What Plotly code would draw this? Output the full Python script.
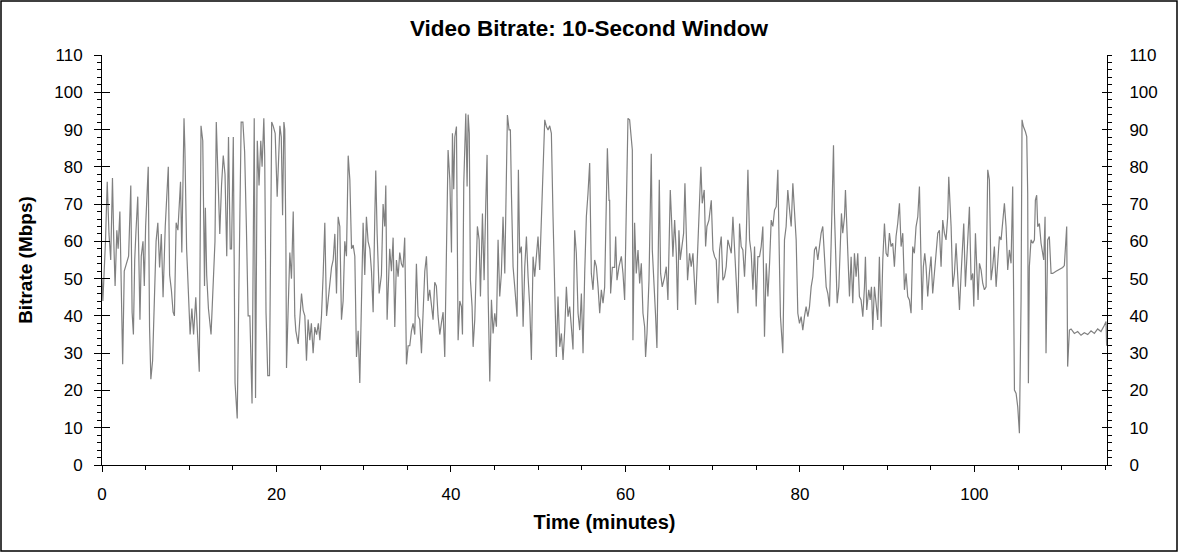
import plotly.graph_objects as go

# 10-second window bitrate (time in minutes, Mbps)
time_min = [
    0.0, 0.1, 0.25, 0.4, 0.6, 0.8, 1.0, 1.2, 1.35, 1.5, 1.7, 1.85, 2.05, 2.2, 2.37, 2.55, 2.8, 3.05,
    3.3, 3.45, 3.6, 3.75, 3.9, 4.1, 4.35, 4.5, 4.7, 4.85, 5.0, 5.3, 5.45, 5.6, 5.8, 6.0, 6.2, 6.4,
    6.6, 6.8, 7.0, 7.25, 7.6, 7.75, 7.95, 8.15, 8.3, 8.5, 8.7, 9.0, 9.15, 9.4, 9.5, 9.7, 9.9, 10.1,
    10.3, 10.5, 10.75, 10.95, 11.15, 11.35, 11.55, 11.75, 11.85, 12.0, 12.2, 12.5, 12.75, 12.95,
    13.1, 13.3, 13.5, 13.7, 13.9, 14.1, 14.3, 14.5, 14.7, 14.85, 15.05, 15.25, 15.5, 15.7, 15.95,
    16.15, 16.35, 16.55, 16.75, 16.95, 17.2, 17.45, 17.6, 17.8, 18.0, 18.2, 18.35, 18.55, 18.65,
    18.8, 19.0, 19.2, 19.35, 19.45,
    19.62, 19.85, 20.08, 20.39, 20.55, 20.7, 20.85, 20.95, 21.08, 21.15, 21.34, 21.53, 21.72,
    21.92, 22.1, 22.22, 22.49, 22.68, 22.87, 23.06, 23.25, 23.44, 23.63, 23.82, 24.0, 24.2, 24.4,
    24.6, 24.8, 24.97, 25.16, 25.35, 25.54, 25.74, 25.93, 26.12, 26.31, 26.5, 26.69, 26.88, 27.07,
    27.26, 27.45, 27.64, 27.83, 28.02, 28.22, 28.41, 28.6, 28.79, 28.98, 29.17, 29.36, 29.55,
    29.74, 29.93, 30.12, 30.31, 30.5, 30.7, 30.89, 31.08, 31.27, 31.38, 31.54, 31.77, 32.03,
    32.22, 32.41, 32.53, 32.68, 32.79, 32.98, 33.18, 33.37, 33.56, 33.75, 33.94, 34.13, 34.32,
    34.51, 34.7, 34.9, 35.09, 35.28, 35.47, 35.66, 35.85, 36.04, 36.23, 36.42, 36.62, 36.81, 37.0,
    37.19, 37.38, 37.57, 37.76, 37.95, 38.14, 38.33, 38.52,
    38.72, 38.9, 39.1, 39.29, 39.48, 39.67, 39.87, 40.06, 40.17, 40.32, 40.44, 40.63, 40.82, 41.01,
    41.2, 41.32, 41.47, 41.7, 41.85, 41.97, 42.1, 42.23, 42.42, 42.54, 42.73, 42.92, 43.03, 43.23,
    43.38, 43.61, 43.8, 43.99, 44.14, 44.26, 44.45, 44.64, 44.83, 45.02, 45.21, 45.4, 45.59, 45.78,
    45.97, 46.17, 46.36, 46.47, 46.66, 46.81, 46.93, 47.12, 47.31, 47.58, 47.73, 47.88, 48.07,
    48.27, 48.46, 48.65, 48.84, 49.03, 49.22, 49.41, 49.6, 49.79, 49.98, 50.17, 50.37, 50.56,
    50.75, 50.94, 51.13, 51.32, 51.51, 51.7, 51.89, 52.08, 52.27, 52.47, 52.66, 52.85, 53.04,
    53.23, 53.42, 53.61, 53.8, 53.99, 54.18, 54.37, 54.57, 54.76, 54.95, 55.14, 55.33, 55.52,
    55.71, 55.9, 56.09, 56.28, 56.47, 56.67, 56.86, 57.05, 57.24, 57.43, 57.62, 57.81, 57.93, 58.12,
    58.19, 58.3, 58.5, 58.76, 58.88, 59.03, 59.26, 59.53, 59.72, 59.91, 60.1, 60.29, 60.48, 60.67,
    60.79, 60.86, 61.05, 61.24, 61.44, 61.63, 61.82, 62.01, 62.2, 62.31, 62.47, 62.7, 62.85, 62.96,
    63.08, 63.23, 63.46, 63.61, 63.76, 63.88, 64.03, 64.22, 64.49, 64.68, 64.87, 64.99, 65.14,
    65.29, 65.44, 65.64, 65.83, 65.98, 66.13, 66.28, 66.51, 66.67, 66.82, 66.97, 67.12, 67.35,
    67.54, 67.74, 67.93, 68.04, 68.31, 68.5, 68.65, 68.8, 69.03, 69.19, 69.34, 69.57, 69.84, 70.03,
    70.22, 70.41, 70.6, 70.79, 70.98, 71.17, 71.36, 71.55, 71.74, 71.94, 72.13, 72.32, 72.51, 72.7,
    72.89, 73.08, 73.27, 73.46, 73.65, 73.84, 74.04, 74.23, 74.42, 74.61, 74.8, 74.99, 75.18,
    75.37, 75.56, 75.75, 75.94, 76.14, 76.33, 76.52, 76.71, 76.9, 77.09, 77.28, 77.47,
    77.66, 77.77, 78.04, 78.23, 78.42, 78.61, 78.81, 79.0, 79.19, 79.38, 79.57, 79.76, 79.95,
    80.14, 80.33, 80.52, 80.71, 80.91, 81.1, 81.29, 81.48, 81.67, 81.86, 82.05, 82.24, 82.43,
    82.62, 82.81, 83.01, 83.2, 83.39, 83.58, 83.69, 83.85, 83.96, 84.15, 84.27, 84.46, 84.61,
    84.76, 84.91, 85.11, 85.22, 85.37, 85.53, 85.68, 85.87, 86.06, 86.25, 86.44, 86.63, 86.82,
    87.01, 87.21, 87.4, 87.51, 87.66, 87.89, 88.05, 88.2, 88.35, 88.54, 88.73, 88.92, 89.11,
    89.31, 89.5, 89.69, 89.88, 90.07, 90.26, 90.45, 90.64, 90.83, 91.02, 91.21, 91.41, 91.6,
    91.79, 91.98, 92.17, 92.36, 92.55, 92.74, 92.93, 93.12, 93.31, 93.51, 93.7, 93.89, 94.0,
    94.15, 94.31, 94.46, 94.65, 94.84, 95.03, 95.22, 95.41, 95.61, 95.8, 95.99, 96.18, 96.37,
    96.56, 96.75, 96.94, 97.06,
    97.14, 97.33, 97.52, 97.71, 97.9, 98.09, 98.29, 98.48, 98.67, 98.78, 98.97, 99.13, 99.28,
    99.43, 99.62, 99.81, 99.93, 100.12, 100.27, 100.42, 100.58, 100.77, 100.96, 101.15, 101.34,
    101.53, 101.72, 101.91, 102.1, 102.29, 102.49, 102.68, 102.87, 103.06, 103.25, 103.44,
    103.63, 103.82, 104.01, 104.2, 104.39, 104.59, 104.78, 104.97, 105.16, 105.35, 105.46,
    105.62, 105.85, 106.0, 106.11, 106.19, 106.3, 106.49, 106.69, 106.88, 106.99, 107.14, 107.26,
    107.45, 107.64, 107.83, 107.95, 108.1, 108.21, 108.4, 108.59, 108.79, 108.98, 109.36, 109.74,
    110.12, 110.31, 110.5, 110.58, 110.69, 110.89, 111.08, 111.46, 111.84, 112.22, 112.6, 112.99,
    113.37, 113.75, 114.13, 114.51, 114.9, 115.09, 115.16,
]

bitrate_mbps = [
    50, 44, 52, 60, 76, 62, 55, 77, 60, 48, 63, 58, 68, 49, 27, 52, 54, 56,
    75, 41, 35, 55, 63, 72, 39, 56, 60, 48, 64, 80, 37, 23, 28, 44, 60, 65,
    53, 62, 45, 64, 80, 51, 47, 41, 40, 65, 63, 76, 57, 93, 85, 58, 48, 35,
    42, 35, 45, 35, 25, 91, 87, 48, 69, 51, 42, 35, 49, 60,
    92, 77, 62, 75, 83, 78, 56, 88, 58, 58, 88, 22, 12.5, 49, 92,
    92, 84, 64, 40, 40, 16.5, 93, 18, 87, 75, 87, 80, 93, 83,
    41, 24, 24, 65, 92,
    91, 89, 72, 91, 88, 67, 92, 90, 59, 26, 42, 57, 50,
    68, 40, 36, 32.5, 39, 46, 41.5, 40, 28, 39, 33.5, 38, 30, 37,
    35, 38, 33.5, 40, 51, 65, 40, 44, 48, 53, 55, 62, 46, 66.6,
    64, 39, 44, 60, 56, 83, 76.5, 58, 59, 56, 29, 36, 22,
    48, 65, 51, 66.6, 60, 58, 52, 41, 66.6, 79, 62, 46, 51,
    70, 64, 75, 39, 48, 58, 52, 61, 37, 55, 50.5, 57, 54,
    53, 61, 27, 32, 32, 36, 38, 35, 54, 40, 39, 30, 40, 52,
    56, 44, 47, 42.5, 39, 49, 48, 40,
    35, 38, 41, 29, 54, 84.5, 76.5, 57, 89, 74, 88, 90.8, 33.5, 44,
    42.5, 35, 75.6, 94.3, 74.7, 94, 89, 49.6, 42.5, 31.7, 39, 56, 64, 60.4,
    45.2, 67.5, 49.6, 70.2, 83.2, 46, 22.4, 44.3, 35.3, 40.7, 37.1, 60.4, 45.2, 51.4,
    66.6, 51.4, 75.6, 93.9, 89.9, 89.9, 72.9, 53.2, 47.8, 39.8, 79.2, 56.8, 58.6,
    37.1, 53.2, 61.3, 50.5, 42.5, 28.2, 55.9, 50.5, 55, 61.3, 52.3, 64.8, 81.8,
    92.6, 90.8, 89.9, 91, 89, 66.6, 43.4, 29, 45.2, 31.7, 35.3, 28.2, 36.2,
    47.8, 39.8, 42.5, 37.1, 31, 63, 56.8, 40.7, 36.2, 46, 30, 51.4, 66.6,
    72.9, 81, 51.4, 47, 55, 53.2, 47.8, 40.7, 47, 43.4, 47.8, 71, 85, 71,
    71, 46, 53, 53, 61.3, 49.6, 53.2, 56, 51.4, 44.3, 75.6, 93, 92.6, 88,
    84.5, 33.5, 65, 51.4, 57.7, 48.7, 54.1, 40.7, 37.1, 29, 35.3, 49.6, 77.3, 83.5,
    57.7, 48.7, 39.8, 31.4, 67.5, 76.5, 51.4, 47.8, 50.5, 53.2, 44.3, 56.8, 73.8,
    65.7, 55.9, 65.7, 56.8, 41.6, 63, 55, 59.5, 62.2, 75.6, 62.2, 49.6, 56.8,
    53.2, 56.8, 47.8, 43, 59.5, 71, 80, 70.2, 73.8, 58.6, 64, 65.7, 71, 57.7,
    55.9, 55, 43.4, 57.7, 61.3, 49.6, 50.5, 53.2, 60.4, 58.6, 56.8, 66.6, 57.7, 47.8,
    40.7, 64.8, 58.6, 57.7, 50.5, 60.4, 79.2, 60.4, 56.8, 47, 58.6, 42.5, 55.9,
    55.9, 58.6, 64, 34.4, 54.1, 45.2, 54.1, 65.7, 64, 68.4, 69.3, 79.2,
    53.2, 39.8, 30, 60.4, 64, 73.8, 68.4, 64, 75.6, 67.5, 60.4, 40.7, 38,
    39.8, 36.2, 39.8, 42.5, 39.8, 42.5, 47.8, 50.5, 57.7, 58.6, 55, 58.6, 62.2,
    64, 55, 47.8, 46, 42.5, 59.5, 69.3, 85.8, 67.5, 49.6, 43.4, 47.8, 56.8,
    67.5, 62.2, 66.6, 73.8, 64.8, 53.2, 45.2, 55.9, 43.4, 56.8, 50.5, 56.8, 45.2,
    44.3, 39.8, 47.8, 55.9, 41.6, 47, 44.3, 47.8, 36.2, 47.8, 43.4, 38.9, 55.9,
    37.1, 55, 64.8, 56.8, 55.9, 62.2, 58.6, 59.5, 53.2, 61.3, 64.8, 70.2, 58.6,
    62.2, 47, 51.4, 45.2, 44.3, 40.7, 58.6, 56.8, 63.9, 66.6, 74.7, 57.7, 41.6,
    53.2, 56.8, 53.2, 45.2, 51.4, 55.9, 46, 51.4, 58.6, 62.2, 63, 53.2, 65.7,
    62.2, 60.4, 66.6, 77.3,
    73.8, 64, 47.8, 51.4, 59.5, 48.7, 41.6, 51.4, 58.6, 64.8, 47.8, 55, 62.2,
    69.3, 49.6, 51.4, 42.5, 62.2, 53.2, 44.3, 54.1, 52.3, 48.7, 47, 47.8,
    79.2, 76.5, 49.6, 53.2, 58.6, 47.8, 54.1, 61.3, 60.4, 66.6, 70.2,
    63.9, 52.3, 57.7, 54.1, 74.7, 20.1, 19.2, 15.6, 8.5, 44.3, 92.6,
    90.8, 89.4, 88.1, 72.9, 21.9, 53.2, 60.4, 59.5, 60.4, 71.1, 72.4, 63.9,
    64.8, 59.5, 56.8, 55, 66.6, 30, 60.4, 61.3, 51.4, 51.4, 52, 52.5,
    53, 53.5, 59.5, 64, 26.4, 36.2, 36.5, 35.3, 35.8, 34.8, 35.5, 35,
    36, 35.3, 36.5, 35.8, 37.5, 38.5, 32,
]

y_range = [0, 110]
x_range = [0, 115.2]
y_ticks = list(range(0, 111, 10))
x_ticks = [0, 20, 40, 60, 80, 100]

font = "Arial, 'Liberation Sans', sans-serif"

fig = go.Figure()
fig.add_trace(go.Scatter(
    x=time_min, y=bitrate_mbps, mode="lines",
    line=dict(color="#808080", width=1.2),
    hoverinfo="skip", showlegend=False,
))
# empty traces so the overlay axes (right labels, inner tick marks) get drawn
for ya in ["y2", "y3", "y4"]:
    fig.add_trace(go.Scatter(x=[None], y=[None], yaxis=ya, showlegend=False, hoverinfo="skip"))

axis_common = dict(range=y_range, tickvals=y_ticks, showgrid=False, zeroline=False,
                   tickfont=dict(family=font, size=17, color="black"))

fig.update_layout(
    width=1178, height=552,
    margin=dict(l=102, r=71, t=55, b=87),
    paper_bgcolor="white", plot_bgcolor="white",
    font=dict(family=font, color="black"),
    title=dict(text="<b>Video Bitrate: 10-Second Window</b>", x=0.5, xanchor="center",
               y=1 - 28 / 552, yanchor="middle", font=dict(size=22.5, family=font)),
    xaxis=dict(
        range=x_range, tickvals=x_ticks, showgrid=False, zeroline=False,
        showline=True, linecolor="black", linewidth=1,
        ticks="outside", ticklen=6, tickcolor="black", ticklabelstandoff=8,
        minor=dict(dtick=5, ticks="outside", ticklen=4, tickcolor="black"),
        tickfont=dict(family=font, size=17, color="black"),
        title=dict(text="<b>Time (minutes)</b>", font=dict(size=20, family=font), standoff=11),
    ),
    yaxis=dict(
        **axis_common, showline=True, linecolor="black", linewidth=1,
        ticks="outside", ticklen=7, tickcolor="black", ticklabelstandoff=8,
        minor=dict(dtick=2, ticks="outside", ticklen=4, tickcolor="black"),
        title=dict(text="<b>Bitrate (Mbps)</b>", font=dict(size=19, family=font), standoff=16),
    ),
    yaxis2=dict(
        **axis_common, overlaying="y", side="right", anchor="x",
        showline=True, linecolor="black", linewidth=1,
        ticks="outside", ticklen=4, tickcolor="black", ticklabelstandoff=14,
        minor=dict(dtick=2, ticks="outside", ticklen=4, tickcolor="black"),
    ),
    yaxis3=dict(
        range=y_range, tickvals=y_ticks, overlaying="y", side="left", anchor="x",
        showgrid=False, zeroline=False, showline=False, showticklabels=False,
        ticks="inside", ticklen=8, tickcolor="black",
    ),
    yaxis4=dict(
        range=y_range, tickvals=y_ticks, overlaying="y", side="right", anchor="x",
        showgrid=False, zeroline=False, showline=False, showticklabels=False,
        ticks="inside", ticklen=5, tickcolor="black",
    ),
    shapes=[dict(
        type="rect", xref="paper", yref="paper",
        x0=-101 / 1005, x1=1075 / 1005, y0=-86 / 410, y1=464 / 410,
        line=dict(color="black", width=1.5), fillcolor="rgba(0,0,0,0)", layer="above",
    )],
)

# the page's default body margin would shift the figure by 8px
fig.write_html("out.html", config={"displayModeBar": False},
               post_script="document.body.style.margin = '0';")
